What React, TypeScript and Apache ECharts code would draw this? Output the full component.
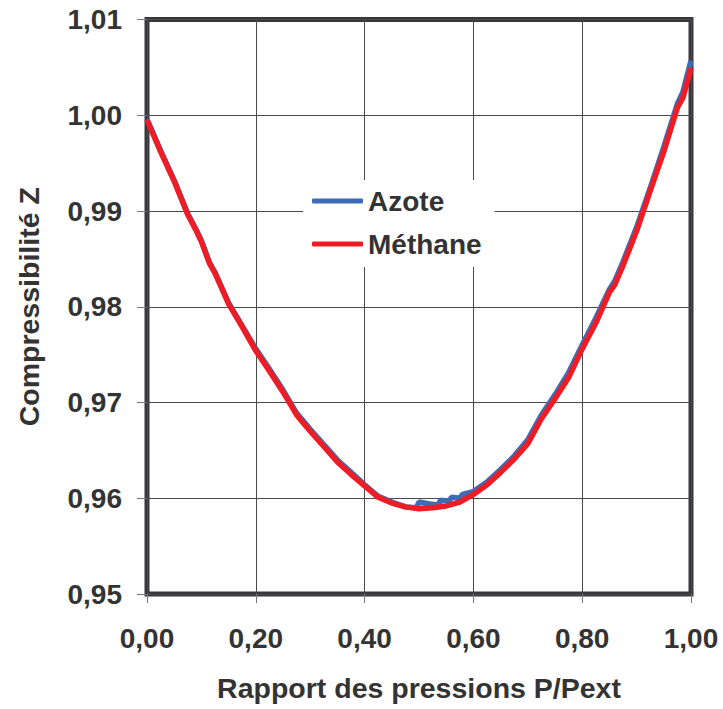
import React, { useEffect, useRef } from "react";
import * as echarts from "echarts";

const xTicks = [0, 0.2, 0.4, 0.6, 0.8, 1.0];
const yTicks = [0.95, 0.96, 0.97, 0.98, 0.99, 1.0, 1.01];

const azoteX = [0, 0.025, 0.05, 0.075, 0.09, 0.1, 0.115, 0.125, 0.15, 0.175, 0.2, 0.225, 0.25, 0.275, 0.3, 0.325, 0.35, 0.375, 0.4, 0.425, 0.45, 0.475, 0.495, 0.5, 0.52, 0.535, 0.54, 0.555, 0.56, 0.575, 0.58, 0.6, 0.625, 0.65, 0.675, 0.7, 0.725, 0.75, 0.775, 0.8, 0.825, 0.85, 0.86, 0.875, 0.9, 0.925, 0.95, 0.975, 0.985, 1.0];
const azoteZ = [0.9996, 0.9963, 0.9932, 0.9897, 0.9881, 0.9869, 0.9846, 0.9836, 0.9804, 0.978, 0.9756, 0.9735, 0.9713, 0.9689, 0.9672, 0.9656, 0.964, 0.9627, 0.9614, 0.9602, 0.9596, 0.9591, 0.959, 0.9596, 0.9594, 0.9593, 0.9598, 0.9597, 0.9601, 0.96, 0.9604, 0.9607, 0.9617, 0.963, 0.9644, 0.9661, 0.9687, 0.9708, 0.9731, 0.976, 0.9788, 0.9818, 0.9827, 0.9847, 0.9883, 0.9924, 0.9967, 1.0012, 1.0024, 1.0057];

const methaneX = [0, 0.025, 0.05, 0.075, 0.09, 0.1, 0.115, 0.125, 0.15, 0.175, 0.2, 0.225, 0.25, 0.275, 0.3, 0.325, 0.35, 0.375, 0.4, 0.425, 0.45, 0.475, 0.5, 0.525, 0.55, 0.575, 0.6, 0.625, 0.65, 0.675, 0.7, 0.725, 0.75, 0.775, 0.8, 0.825, 0.85, 0.86, 0.875, 0.9, 0.925, 0.95, 0.975, 0.985, 1.0];
const methaneZ = [0.9995, 0.9962, 0.9931, 0.9896, 0.988, 0.9868, 0.9845, 0.9835, 0.9803, 0.9779, 0.9754, 0.9733, 0.9711, 0.9687, 0.967, 0.9654, 0.9638, 0.9625, 0.9613, 0.9601, 0.9595, 0.9591, 0.9589, 0.959, 0.9592, 0.9596, 0.9604, 0.9614, 0.9627, 0.9641, 0.9657, 0.9683, 0.9704, 0.9726, 0.9756, 0.9783, 0.9815, 0.9823, 0.9843, 0.9879, 0.9921, 0.9962, 1.0008, 1.0018, 1.0049];

const seriesNames = ["Azote", "Méthane"];
const xTitle = "Rapport des pressions P/Pext";
const yTitle = "Compressibilité Z";

const FONT = "'Liberation Sans', Arial, Helvetica, sans-serif";
const TXT = "#333333";

export default function App() {
  const ref = useRef<HTMLDivElement>(null);
  useEffect(() => {
    if (!ref.current) return;
    const chart = echarts.init(ref.current, null, { renderer: "svg" });
    const fmt = (v: number) => v.toFixed(2).replace(".", ",");
    chart.setOption({
      animation: false,
      backgroundColor: "#ffffff",
      textStyle: { fontFamily: FONT },
      grid: {
        left: 147,
        top: 19.5,
        right: 32,
        bottom: 115,
        show: true,
        borderColor: "#38383c",
        borderWidth: 5,
        backgroundColor: "transparent",
      },
      legend: {
        orient: "vertical",
        left: 303,
        top: 180,
        backgroundColor: "#ffffff",
        padding: [7, 13, 9, 9],
        itemWidth: 51,
        itemHeight: 5,
        itemGap: 15,
        icon: "roundRect",
        data: seriesNames,
        textStyle: { fontFamily: FONT, fontWeight: "bold", fontSize: 28, color: TXT },
      },
      xAxis: {
        type: "value",
        min: xTicks[0],
        max: xTicks[xTicks.length - 1],
        interval: 0.2,
        name: xTitle,
        nameLocation: "middle",
        nameGap: 79,
        nameTextStyle: { fontFamily: FONT, fontWeight: "bold", fontSize: 28.5, color: TXT },
        axisLine: { show: false },
        axisTick: { show: true, length: 9, lineStyle: { color: "#777", width: 1 } },
        axisLabel: { formatter: fmt, margin: 30, fontFamily: FONT, fontWeight: "bold", fontSize: 28, color: TXT },
        splitLine: { show: true, lineStyle: { color: "#4a4a4a", width: 1 } },
      },
      yAxis: {
        type: "value",
        min: yTicks[0],
        max: yTicks[yTicks.length - 1],
        interval: 0.01,
        name: yTitle,
        nameLocation: "middle",
        nameGap: 104,
        nameRotate: 90,
        nameTextStyle: { fontFamily: FONT, fontWeight: "bold", fontSize: 28.5, color: TXT },
        axisLine: { show: false },
        axisTick: { show: true, length: 10, lineStyle: { color: "#777", width: 1 } },
        axisLabel: { formatter: fmt, margin: 25, fontFamily: FONT, fontWeight: "bold", fontSize: 28, color: TXT },
        splitLine: { show: true, lineStyle: { color: "#4a4a4a", width: 1 } },
      },
      series: [
        {
          name: seriesNames[0],
          type: "line",
          symbol: "none",
          data: azoteX.map((x, i) => [x, azoteZ[i]]),
          lineStyle: { color: "#3e6bb6", width: 5.5 },
          itemStyle: { color: "#3e6bb6" },
          z: 3,
        },
        {
          name: seriesNames[1],
          type: "line",
          symbol: "none",
          data: methaneX.map((x, i) => [x, methaneZ[i]]),
          lineStyle: { color: "#ee1c25", width: 5.5 },
          itemStyle: { color: "#ee1c25" },
          z: 4,
        },
      ],
    });
    return () => chart.dispose();
  }, []);
  return (
    <div
      ref={ref}
      style={{ position: "fixed", left: 0, top: 0, width: 723, height: 709, background: "#fff" }}
    />
  );
}
